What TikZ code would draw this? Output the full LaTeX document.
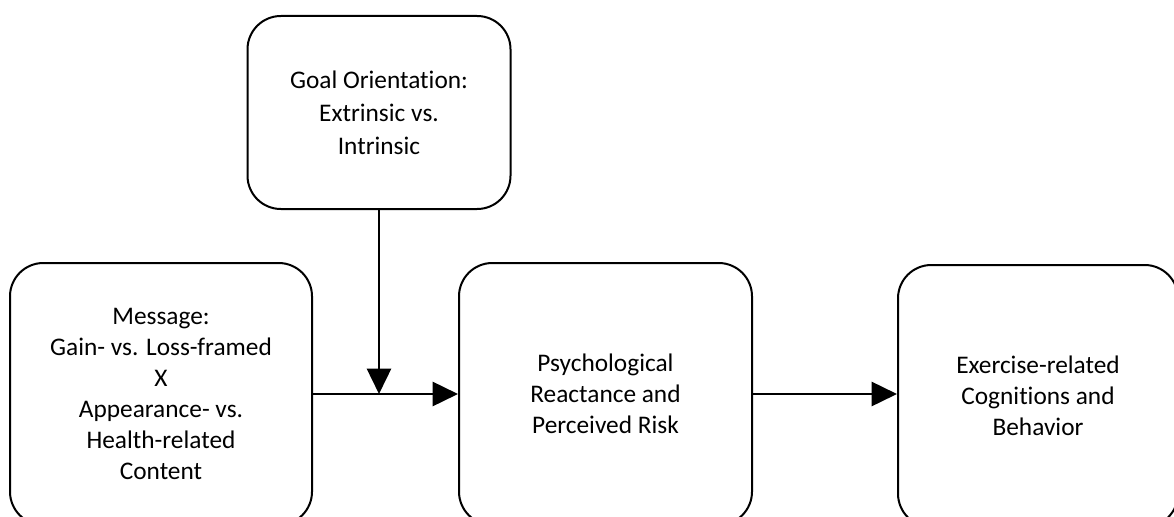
\documentclass[tikz,border=0pt]{standalone}
\usepackage{fontspec}
\setmainfont{Carlito}[Ligatures=NoCommon]
\usetikzlibrary{arrows.meta}
\tikzset{
  box/.style={draw=black, line width=1.5pt, rounded corners=25pt, fill=white,
    align=center, inner sep=0pt, font=\fontsize{19}{23.3}\selectfont},
  arr/.style={line width=2pt, -{Triangle[length=19pt,width=18pt]}},
}
\begin{document}
\begin{tikzpicture}[x=0.75pt,y=-0.75pt]
\useasboundingbox (0,0) rectangle (1174,517);
\clip (0,0) rectangle (1174,517);
\node[box, font=\fontsize{19}{24.7}\selectfont, minimum width=197.25pt, minimum height=144.75pt] (goal) at (379,112.5)
  {Goal Orientation:\\Extrinsic vs.\\Intrinsic};
\node[box, minimum width=226.5pt, minimum height=196.5pt] (msg) at (161,394)
  {Message:\\Gain- vs. Loss-framed\\X\\Appearance- vs.\\Health-related\\Content};
\node[box, minimum width=219.75pt, minimum height=196.5pt] (psy) at (605.5,394)
  {Psychological\\Reactance and\\Perceived Risk};
\node[box, minimum width=210pt, minimum height=196.5pt] (exe) at (1038,396)
  {Exercise-related\\Cognitions and\\Behavior};
\coordinate (j) at (goal.south |- msg.east);
\draw[arr] (msg.east) -- (psy.west);
\draw[arr] (goal.south) -- (j);
\draw[arr] (psy.east) -- (exe.west |- psy.east);
\end{tikzpicture}
\end{document}
